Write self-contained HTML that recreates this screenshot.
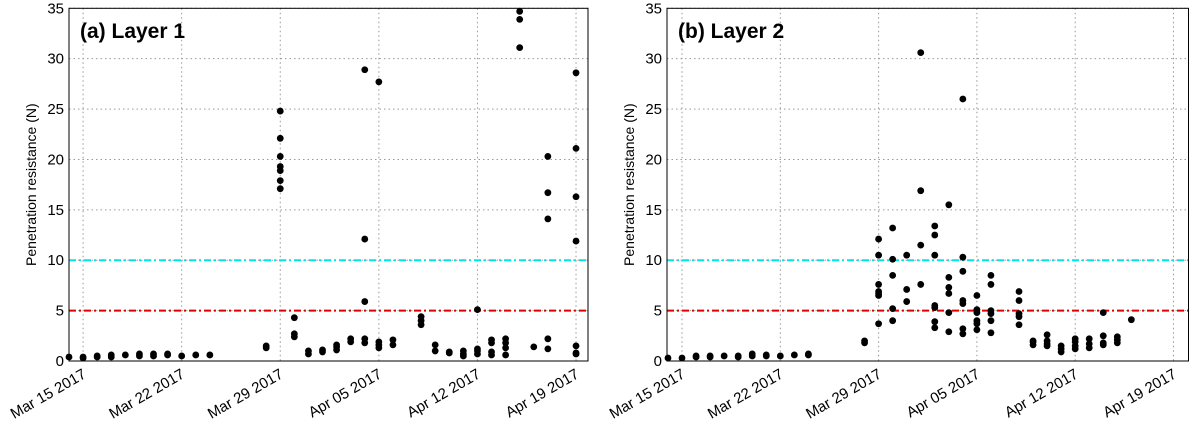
<!DOCTYPE html>
<html><head><meta charset="utf-8"><style>
html,body{margin:0;padding:0;background:#fff;width:1191px;height:422px;overflow:hidden}
svg text{font-family:"Liberation Sans",sans-serif}
</style></head><body>
<svg id="c" width="1191" height="422" xmlns="http://www.w3.org/2000/svg"></svg>
<script>
const yTicks=[0,5,10,15,20,25,30,35];
const dateTicks=[0,7,14,21,28,35];
const dateLabels=["Mar 15 2017","Mar 22 2017","Mar 29 2017","Apr 05 2017","Apr 12 2017","Apr 19 2017"];
const thresholds=[10,5];
const layer1Days=[-1,0,1,2,3,4,5,6,7,8,9,13,14,15,16,17,18,19,20,21,22,24,25,26,27,28,29,30,31,32,33,35];
const layer1Vals=[[0.4],[0.3,0.4],[0.4,0.5],[0.4,0.6],[0.6],[0.5,0.7],[0.5,0.7],[0.6,0.7],[0.5],[0.6],[0.6],[1.3,1.5],
[24.8,22.1,20.3,19.3,18.9,17.9,17.1],[4.3,2.7,2.4],[0.7,1.0],[0.9,1.1],[1.1,1.4,1.6],[1.9,2.2],[28.9,12.1,5.9,2.2,1.8],
[27.7,1.3,1.6,1.9],[1.6,2.1],[3.6,4.0,4.4],[1.0,1.6],[0.8,0.9],[0.5,0.7,1.0],[5.1,0.7,1.2,1.0],[0.6,0.9,1.8,2.1],
[0.6,1.3,1.8,2.2],[34.7,33.9,31.1],[1.4],[20.3,16.7,14.1,2.2,1.2],[28.6,21.1,16.3,11.9,1.5,0.8,0.7]];
const layer2Days=[-1,0,1,2,3,4,5,6,7,8,9,13,14,15,16,17,18,19,20,21,22,24,25,26,27,28,29,30,31,32];
const layer2Vals=[[0.3],[0.3],[0.4,0.5],[0.4,0.5],[0.5],[0.4,0.5],[0.5,0.7],[0.5,0.6],[0.5],[0.6],[0.6,0.7],[1.8,2.0],
[12.1,10.5,7.6,6.9,6.7,6.5,3.7],[13.2,10.1,8.5,5.2,4.0],[10.5,7.1,5.9],[30.6,16.9,11.5,7.6],[13.4,12.5,10.5,5.5,5.3,3.9,3.3],
[15.5,8.3,7.3,6.7,4.8,2.9],[26.0,10.3,8.9,6.0,5.7,3.2,2.7],[6.5,5.1,4.8,4.0,3.7,3.1],[8.5,7.6,5.0,4.7,4.0,2.8],
[6.9,6.0,4.7,4.4,3.6],[1.6,1.9,2.0],[2.6,2.0,1.5,1.7],[0.9,1.2,1.5],[1.2,1.5,1.9,2.2],[1.3,1.7,2.2],[4.8,2.5,1.6,1.8],[1.8,2.1,2.4],[4.1]];
const NS="http://www.w3.org/2000/svg";
const svg=document.getElementById('c');
function mk(t,a,p){const e=document.createElementNS(NS,t);for(const k in a)e.setAttribute(k,a[k]);(p||svg).appendChild(e);return e;}
function panel(id,title,x0,x1,d0,d1,days,vals){
  const top=8.3,bot=361;
  const g=mk('g',{});
  
  
  const sx=d=>x0+(d-d0)/(d1-d0)*(x1-x0);
  const sy=v=>bot-v/35*(bot-top);
  yTicks.forEach(v=>{
    const l=mk('line',{x1:x0,x2:x1,y1:sy(v),y2:sy(v),stroke:'#999','stroke-dasharray':'1.5,3','stroke-width':1},g);
    
    
    const t=mk('text',{x:x0-5,y:sy(v)+5,'text-anchor':'end','font-size':15,fill:'#000'},g);
    t.textContent=v;
    
    
  });
  dateTicks.forEach((d,i)=>{
    const x=sx(d);
    const l=mk('line',{x1:x,x2:x,y1:top,y2:bot,stroke:'#999','stroke-dasharray':'1.5,3','stroke-width':1},g);
    
    
    const t=mk('text',{x:0,y:0,'text-anchor':'end','font-size':15,fill:'#000',transform:`translate(${x+4},${bot+16}) rotate(-30)`},g);
    t.textContent=dateLabels[i];
    
    
  });
  const cols=['#00e5e5','#e00000'];
  thresholds.forEach((v,i)=>{
    const l=mk('line',{x1:x0,x2:x1,y1:sy(v),y2:sy(v),stroke:cols[i],'stroke-width':2,'stroke-dasharray':'7,3,2,3'},g);
    
    
  });
  days.forEach((d,i)=>vals[i].forEach(v=>{
    const c=mk('circle',{cx:sx(d),cy:sy(v),r:3.4,fill:'#000'},g);
    
    
  }));
  const f=mk('rect',{x:x0,y:top,width:x1-x0,height:bot-top,fill:'none',stroke:'#000','stroke-width':1},g);
  
  
  const tt=mk('text',{x:x0+11,y:38,'font-size':21,'font-weight':'bold',fill:'#000'},g);
  tt.textContent=title;
  
  
  const yl=mk('text',{x:0,y:0,'text-anchor':'middle','font-size':14,fill:'#000',transform:`translate(${x0-33},${(top+bot)/2}) rotate(-90)`},g);
  yl.textContent='Penetration resistance (N)';
  
  
}
panel('panel-layer-1','(a) Layer 1',69,588,-1.0,35.85,layer1Days,layer1Vals);
panel('panel-layer-2','(b) Layer 2',667,1188.5,-1.07,36.07,layer2Days,layer2Vals);
</script>
</body></html>
